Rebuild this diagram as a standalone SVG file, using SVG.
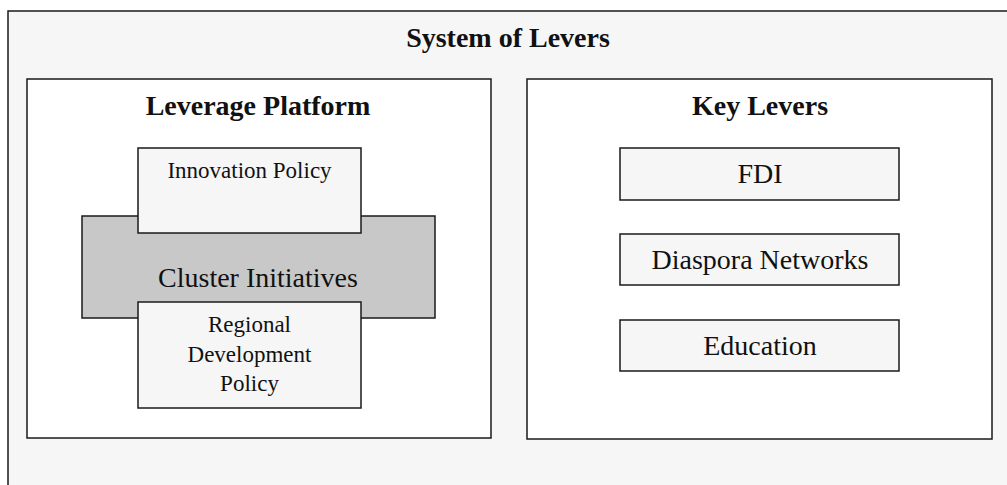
<svg xmlns="http://www.w3.org/2000/svg" width="1007" height="485" viewBox="0 0 1007 485">
<style>
.box{stroke:#1a1a1a;stroke-width:1.5}
.light{fill:#f6f6f6}
.white{fill:#ffffff}
.grey{fill:#c8c8c8}
text{font-family:"Liberation Serif","Times New Roman",serif;fill:#111;text-anchor:middle}
.title{font-weight:bold;font-size:28px}
.lab{font-size:23px}
.big{font-size:28px}
</style>
<rect width="1007" height="485" fill="#ffffff"/>
<g id="system">
<rect class="box light" x="8" y="11" width="1010" height="490"/>
<text class="title" x="508" y="47">System of Levers</text>
</g>
<g id="leverage-platform">
<rect class="box white" x="27" y="79" width="464" height="359"/>
<text class="title" x="258" y="115">Leverage Platform</text>
</g>
<g id="cluster-initiatives">
<rect class="box grey" x="82" y="216" width="353" height="102"/>
<text class="big" x="258" y="287">Cluster Initiatives</text>
</g>
<g id="innovation-policy">
<rect class="box light" x="138" y="148" width="223" height="85"/>
<text class="lab" x="249.5" y="178">Innovation Policy</text>
</g>
<g id="regional-development-policy">
<rect class="box light" x="138" y="302" width="223" height="106"/>
<text class="lab" x="249.5" y="332">Regional</text>
<text class="lab" x="249.5" y="362">Development</text>
<text class="lab" x="249.5" y="391">Policy</text>
</g>
<g id="key-levers">
<rect class="box white" x="527" y="79" width="465" height="360"/>
<text class="title" x="760" y="115">Key Levers</text>
</g>
<g id="fdi">
<rect class="box light" x="620" y="148" width="279" height="52"/>
<text class="big" x="760" y="183">FDI</text>
</g>
<g id="diaspora-networks">
<rect class="box light" x="620" y="234" width="279" height="51"/>
<text class="big" x="760" y="269">Diaspora Networks</text>
</g>
<g id="education">
<rect class="box light" x="620" y="320" width="279" height="51"/>
<text class="big" x="760" y="355">Education</text>
</g>
<g id="connectors"></g>
</svg>
